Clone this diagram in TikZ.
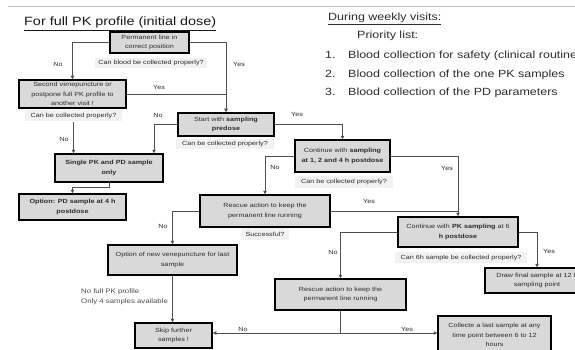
\documentclass[tikz,border=0pt]{standalone}
\usepackage{fontspec}
\setmainfont{Liberation Sans}[FakeStretch=1.2]
\usetikzlibrary{arrows.meta}
\definecolor{boxgray}{RGB}{217,217,217}
\definecolor{qgray}{RGB}{242,242,242}
\definecolor{linegray}{RGB}{80,80,80}
\definecolor{txt}{RGB}{45,45,45}
\begin{document}
\begin{tikzpicture}[x=1pt,y=-1pt,
  box/.style={draw=black, line width=1.5pt, fill=boxgray, align=center, inner sep=0pt, text=txt, font=\fontsize{6}{9.5}\selectfont},
  qlab/.style={fill=qgray, inner sep=0pt, text=txt, font=\fontsize{6}{7}\selectfont},
  yn/.style={inner sep=0pt, text=txt, font=\fontsize{6}{7}\selectfont},
  conn/.style={draw=linegray, line width=0.8pt},
  arr/.style={conn, -{Triangle[length=3.5pt,width=3.5pt]}},
  big/.style={anchor=base west, inner sep=0pt, text=txt, font=\fontsize{10.4}{13}\selectfont}]
\useasboundingbox (0,0) rectangle (575,350);
\fill[white] (0,0) rectangle (575,350);
\draw[black!25, line width=0.8pt] (8,6) -- (575,6);

% headings
\node[anchor=base west, inner sep=0pt, text=black!90, font=\fontsize{12}{14}\selectfont] (title) at (24,26) {\underline{For full PK profile (initial dose)}};
\node[big] (dw) at (328,21) {\underline{During weekly visits:}};
\node[big] (pl) at (357,39) {Priority list:};
\node[big] (n1) at (325,59) {1.};
\node[big] (t1) at (348,59) {Blood collection for safety (clinical routine)};
\node[big] (n2) at (325,78) {2.};
\node[big] (t2) at (348,78) {Blood collection of the one PK samples};
\node[big] (n3) at (325,96) {3.};
\node[big] (t3) at (348,96) {Blood collection of the PD parameters};

% boxes
\node[box, minimum width=79, minimum height=21] (A) at (149.5,42.5) {Permanent line in\\correct position};
\node[box, minimum width=107, minimum height=28] (B) at (72.5,94) {Second venepuncture or\\postpone full PK profile to\\another visit !};
\node[box, minimum width=96, minimum height=23] (C) at (226,124.5) {Start with \textbf{sampling}\\\textbf{predose}};
\node[box, minimum width=108, minimum height=28] (D) at (109,168) {\textbf{Single PK and PD sample}\\\textbf{only}};
\node[box, minimum width=107, minimum height=26] (F) at (72.5,207) {\textbf{Option: PD sample at 4 h}\\\textbf{postdose}};
\node[box, minimum width=95, minimum height=32] (E) at (342.5,156) {Continue with \textbf{sampling}\\\textbf{at 1, 2 and 4 h postdose}};
\node[box, minimum width=130, minimum height=32] (H) at (265,211) {Rescue action to keep the\\permanent line running};
\node[box, minimum width=120, minimum height=30] (G) at (458,232) {Continue with \textbf{PK sampling} at 6\\\textbf{h postdose}};
\node[box, minimum width=104, minimum height=25] (J) at (537,280.5) {Draw final sample at 12 h\\sampling point};
\node[box, minimum width=129, minimum height=30] (I) at (172.5,260) {Option of new venepuncture for last\\sample};
\node[box, minimum width=131, minimum height=31] (K) at (340.5,294.5) {Rescue action to keep the\\permanent line running};
\node[box, minimum width=77, minimum height=25] (S) at (173.5,335.5) {Skip further\\samples !};
\node[box, minimum width=113, minimum height=38] (L) at (494.5,335) {Collecte a last sample at any\\time point between 6 to 12\\hours};

% question labels
\node[qlab, minimum width=112, minimum height=10] (qA) at (151,63) {Can blood be collected properly?};
\node[qlab, minimum width=97, minimum height=11] (qB) at (73.5,116) {Can be collected properly?};
\node[qlab, minimum width=98, minimum height=10] (qC) at (225,144) {Can be collected properly?};
\node[qlab, minimum width=98, minimum height=12] (qE) at (344,181.5) {Can be collected properly?};
\node[qlab, minimum width=48, minimum height=12] (qH) at (265,234) {Successful?};
\node[qlab, minimum width=132, minimum height=11] (qG) at (461,257.5) {Can 6h sample be collected properly?};

% connectors
\coordinate (cx) at (154,0);
\coordinate (jy) at (0,333);
\draw[arr] (A.west) -| (B.north);
\draw[arr] (A.east) -| (C.north);
\draw[conn] (B.east) -- (B.east -| C.north);
\draw[arr] (qB.south) -- (qB.south |- D.north);
\draw[arr] (C.west) -| (cx |- D.north);
\draw[arr] (C.east) -| (E.north);
\draw[arr] (D.south) -- ++(0,5) -| (F.north);
\draw[arr] (E.east) -| (G.north);
\draw[arr] (E.west) -| (H.north);
\draw[conn] (H.east) -- (H.east -| G.north);
\draw[arr] (H.west) -| (I.north);
\draw[arr] (G.east) -| (J.north);
\draw[arr] (G.west) -| (K.north);
\draw[arr] (I.south) -- (I.south |- S.north);
\coordinate (j) at (K.south |- jy);
\draw[conn] (K.south) -- (j);
\draw[arr] (j) -- (j -| S.east);
\draw[arr] (j) -- (j -| L.west);

% yes / no labels
\node[yn] (y1) at (58,64) {No};
\node[yn] (y2) at (239,64) {Yes};
\node[yn] (y3) at (159,87) {Yes};
\node[yn] (y4) at (64,139) {No};
\node[yn] (y5) at (158,115) {No};
\node[yn] (y6) at (297,114) {Yes};
\node[yn] (y7) at (275,167) {No};
\node[yn] (y8) at (447,168) {Yes};
\node[yn] (y9) at (369,201) {Yes};
\node[yn] (y10) at (163,226) {No};
\node[yn] (y11) at (333,252) {No};
\node[yn] (y12) at (549,251) {Yes};
\node[yn] (y13) at (243,329) {No};
\node[yn] (y14) at (407,329) {Yes};
\node[anchor=west, align=left, inner sep=0pt, text=black!70, font=\fontsize{6.5}{10}\selectfont] (nf) at (81,297) {No full PK profile\\Only 4 samples available};
\end{tikzpicture}
\end{document}
